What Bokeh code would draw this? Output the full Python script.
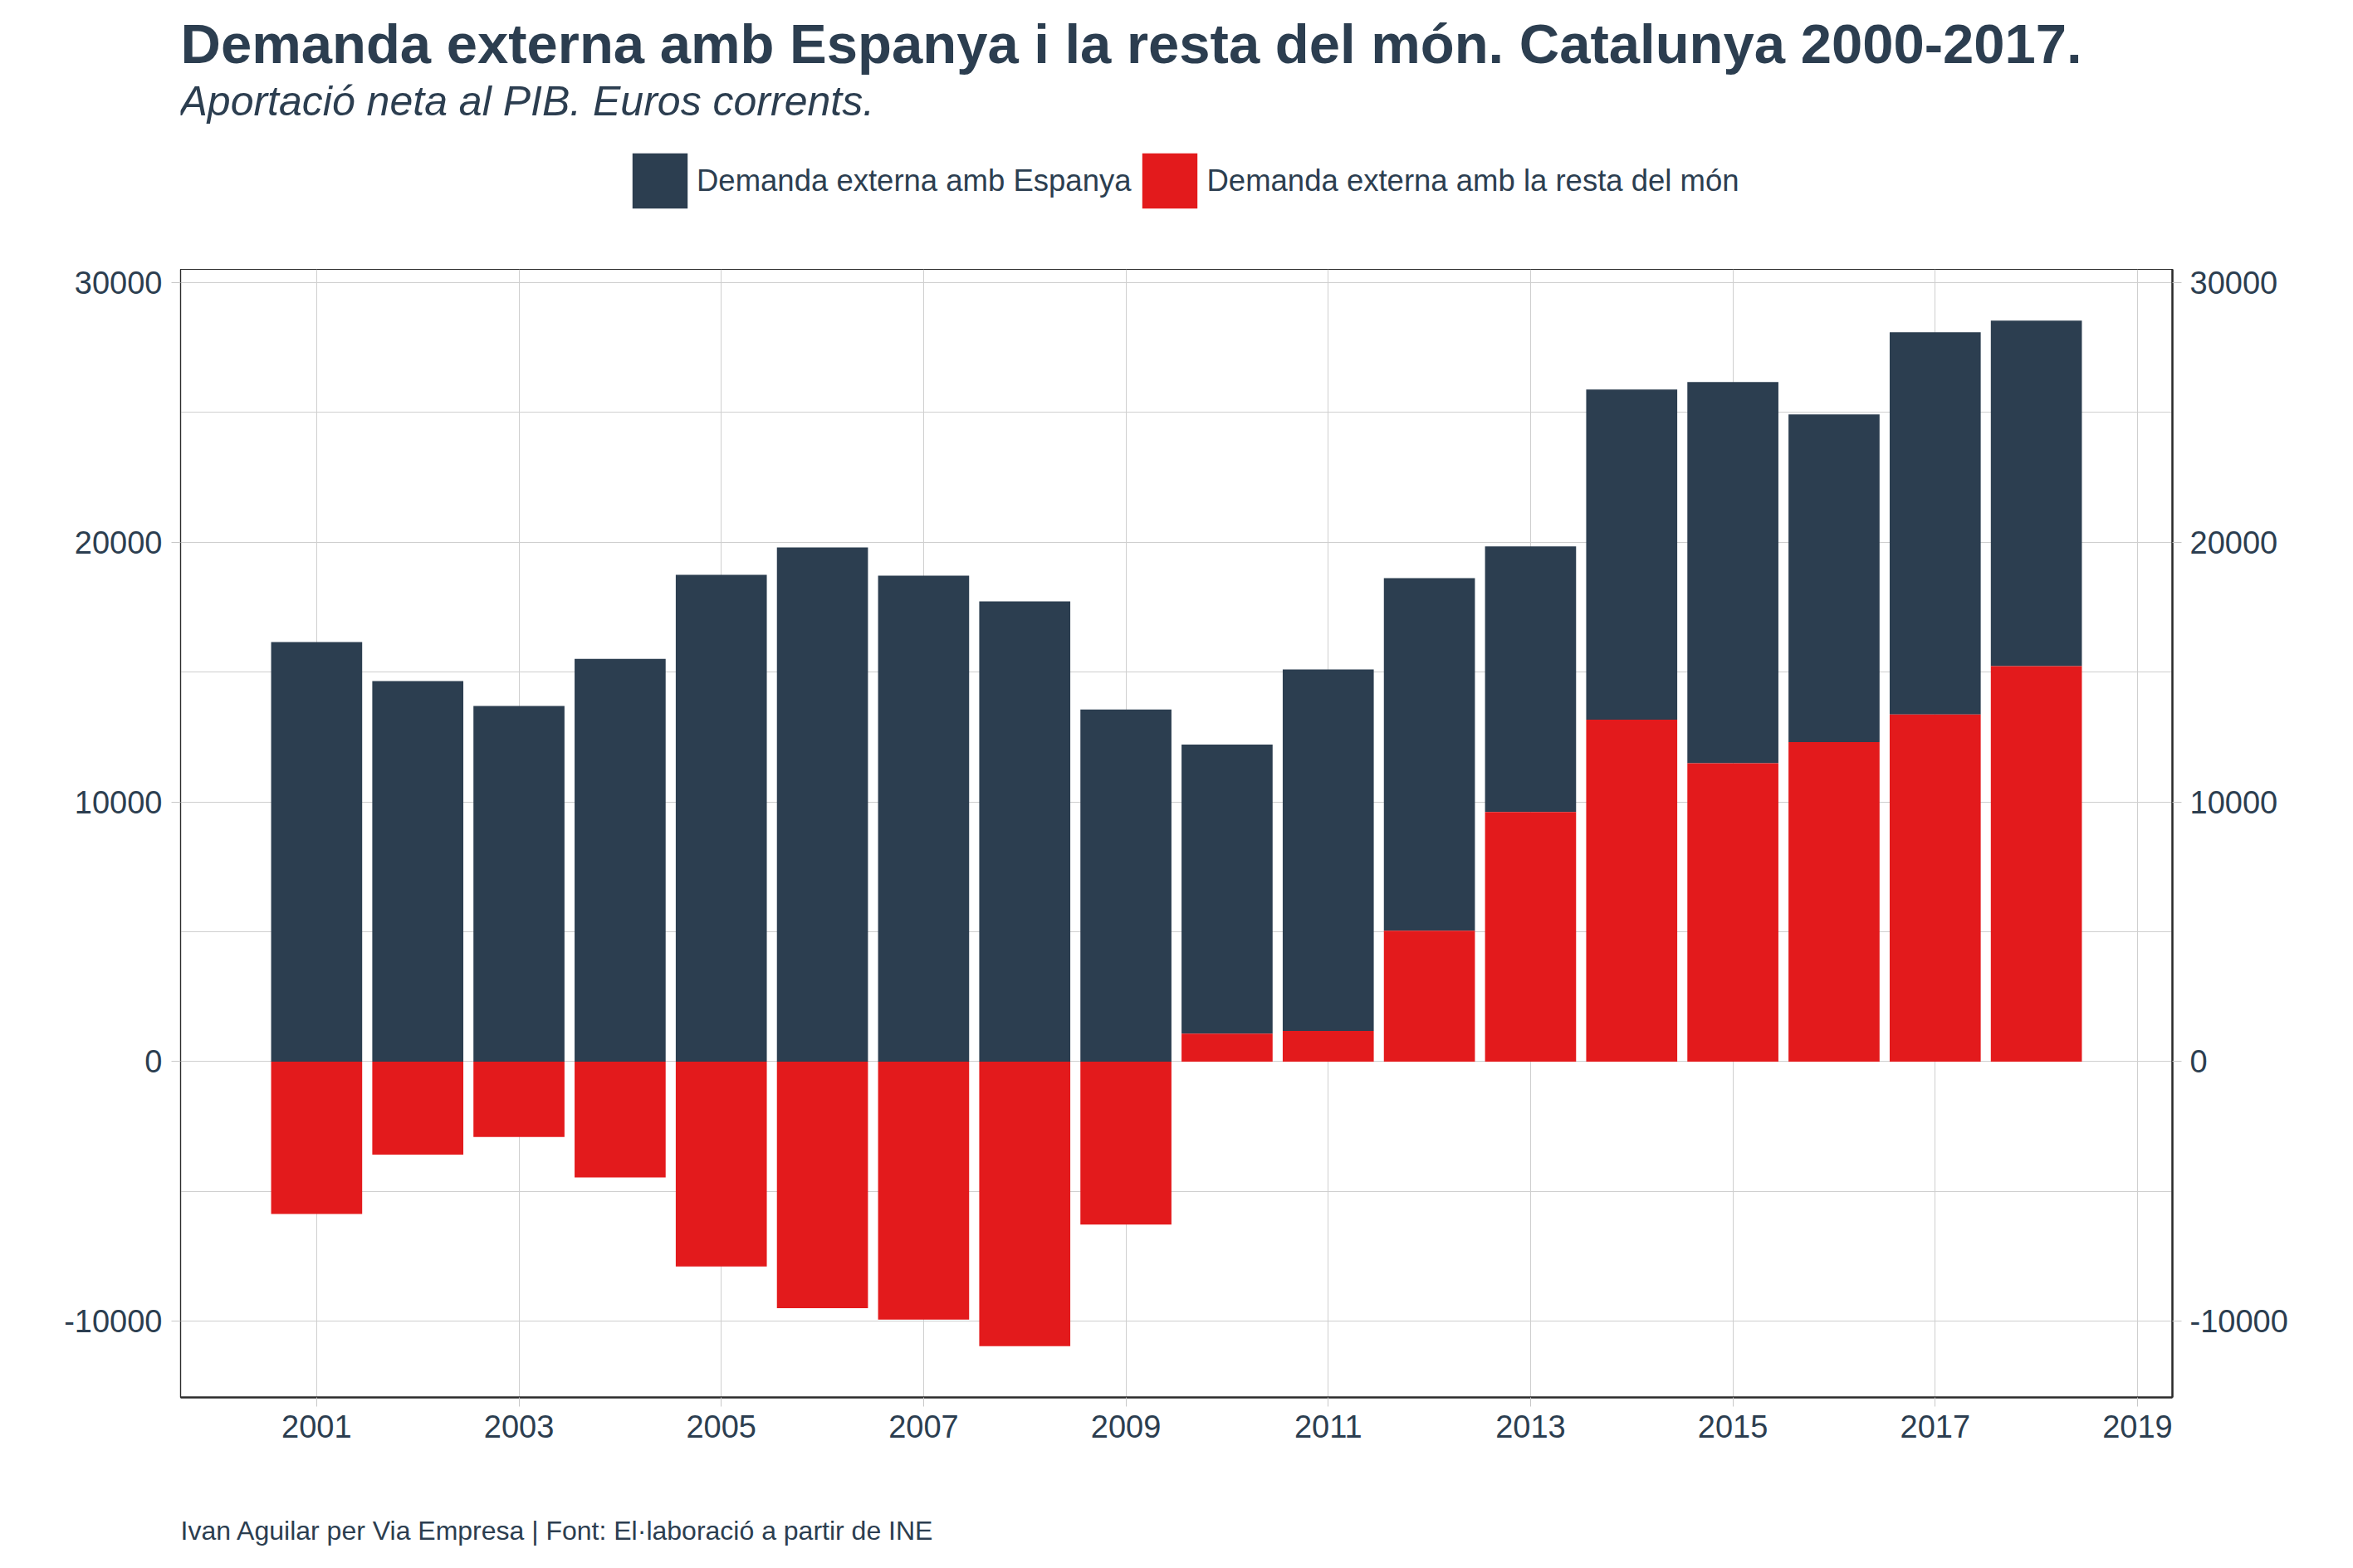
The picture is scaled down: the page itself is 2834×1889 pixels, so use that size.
from bokeh.plotting import figure
from bokeh.layouts import column
from bokeh.models import (ColumnDataSource, LinearAxis, FixedTicker, Range1d,
                          Legend, LegendItem, PrintfTickFormatter)
from bokeh.core.properties import value
from bokeh.embed import file_html
from bokeh.resources import INLINE

# ---- data ----
years = [2001, 2002, 2003, 2004, 2005, 2006, 2007, 2008, 2009,
         2010, 2011, 2012, 2013, 2014, 2015, 2016, 2017, 2018]
espanya = [16150, 14650, 13690, 15505, 18737, 19792, 18705, 17713, 13554,
           11120, 13915, 13570, 10221, 12709, 14667, 12607, 14712, 13301]
resta_mon = [-5866, -3575, -2897, -4460, -7887, -9488, -9930, -10950, -6270,
             1081, 1184, 5038, 9610, 13161, 11488, 12303, 13362, 15221]
series_names = ["Demanda externa amb Espanya", "Demanda externa amb la resta del món"]
x_ticks = [2001, 2003, 2005, 2007, 2009, 2011, 2013, 2015, 2017, 2019]
y_ticks = [-10000, 0, 10000, 20000, 30000]
y_grid = [-10000, -5000, 0, 5000, 10000, 15000, 20000, 25000, 30000]
title_text = "Demanda externa amb Espanya i la resta del món. Catalunya 2000-2017."
subtitle_text = "Aportació neta al PIB. Euros corrents."
caption_text = "Ivan Aguilar per Via Empresa | Font: El·laboració a partir de INE"

# ---- styling ----
DARK = "#2C3E50"
RED = "#E31A1C"
TEXT = "#2C3E50"
GRID = "#CFCFCF"
FONT = "Liberation Sans"
BAR_W = 0.9
W = 2834
BL, BR = 217, 218                      # left / right borders (frame 217..2616)
H_HEAD, H_MAIN, H_FOOT = 320, 1443, 126

# stacking like position_stack: positives stacked (red first, dark on top), negatives downward
red_bottom = [min(r, 0) for r in resta_mon]
red_top = [max(r, 0) for r in resta_mon]
dark_bottom = [max(r, 0) for r in resta_mon]
dark_top = [b + e for b, e in zip(dark_bottom, espanya)]

src = ColumnDataSource(dict(x=years, rb=red_bottom, rt=red_top, db=dark_bottom, dt=dark_top))

xmin, xmax = min(years) - BAR_W / 2, max(years) + BAR_W / 2
xpad = 0.05 * (xmax - xmin)
ymin, ymax = min(min(red_bottom), 0), max(dark_top)
ypad = 0.05 * (ymax - ymin)


def blank(height):
    # frame spans the same columns as the chart; ranges map 1:1 to canvas pixels
    f = figure(width=W, height=height, output_backend="svg", toolbar_location=None,
               x_range=Range1d(BL, W - BR), y_range=Range1d(height, 0),
               x_axis_location=None, y_axis_location=None,
               min_border_left=BL, min_border_right=BR,
               min_border_top=0, min_border_bottom=0)
    f.outline_line_color = None
    f.grid.visible = False
    f.background_fill_color = "white"
    f.border_fill_color = "white"
    return f


# ---- header: title, subtitle, legend ----
head = blank(H_HEAD)
head.text(x=[BL], y=[52], text=[title_text], text_font=value(FONT),
          text_font_size="67px", text_font_style="bold", text_color=TEXT,
          text_baseline="alphabetic")
head.text(x=[BL - 1], y=[121], text=[subtitle_text], text_font=value(FONT),
          text_font_size="50px", text_font_style="italic", text_color=TEXT,
          text_baseline="alphabetic")
# zero-size swatch carriers (outside the header frame) for the legend keys
lg_dark = head.vbar(x=[0], top=[0], bottom=[0], width=0, fill_color=DARK, line_color=None)
lg_red = head.vbar(x=[0], top=[0], bottom=[0], width=0, fill_color=RED, line_color=None)
legend = Legend(items=[LegendItem(label=series_names[0], renderers=[lg_dark]),
                       LegendItem(label=series_names[1], renderers=[lg_red])],
                orientation="horizontal", location=(536, 61),
                glyph_width=83, glyph_height=83,
                label_text_font=FONT, label_text_font_size="36.5px",
                label_text_color=TEXT, label_standoff=3, spacing=5,
                padding=0, margin=0, border_line_color=None,
                background_fill_alpha=0)
head.add_layout(legend)

# ---- main chart ----
p = figure(width=W, height=H_MAIN, output_backend="svg", toolbar_location=None,
           x_range=Range1d(xmin - xpad, xmax + xpad),
           y_range=Range1d(ymin - ypad, ymax + ypad),
           min_border_left=BL, min_border_right=BR,
           min_border_top=4, min_border_bottom=80)
p.background_fill_color = "white"
p.border_fill_color = "white"
p.outline_line_color = "#2B2B2B"
p.outline_line_width = 1.2

p.vbar(x="x", bottom="db", top="dt", width=BAR_W, source=src,
       fill_color=DARK, line_color=None)
p.vbar(x="x", bottom="rb", top="rt", width=BAR_W, source=src,
       fill_color=RED, line_color=None)

p.xgrid.ticker = FixedTicker(ticks=x_ticks)
p.ygrid.ticker = FixedTicker(ticks=y_grid)
for g in (p.xgrid, p.ygrid):
    g.grid_line_color = GRID
    g.grid_line_width = 1


def style_axis(ax, line_w):
    ax.major_label_text_font = FONT
    ax.major_label_text_font_size = "38px"
    ax.major_label_text_color = TEXT
    ax.major_tick_in = 0
    ax.major_tick_out = 11
    ax.minor_tick_in = 0
    ax.minor_tick_out = 0
    ax.major_tick_line_color = "#C8C8C8"
    ax.major_tick_line_width = 1
    ax.axis_line_color = "#2B2B2B"
    ax.axis_line_width = line_w


p.xaxis.ticker = FixedTicker(ticks=x_ticks)
p.yaxis.ticker = FixedTicker(ticks=y_ticks)
p.yaxis.formatter = PrintfTickFormatter(format="%d")
style_axis(p.xaxis[0], 2.5)
style_axis(p.yaxis[0], 1.2)
p.xaxis.major_label_standoff = 10
p.yaxis.major_label_standoff = 11

right_axis = LinearAxis(ticker=FixedTicker(ticks=y_ticks),
                        formatter=PrintfTickFormatter(format="%d"))
style_axis(right_axis, 2.5)
right_axis.major_label_standoff = 10
p.add_layout(right_axis, "right")

# ---- footer: caption ----
foot = blank(H_FOOT)
foot.text(x=[BL], y=[80], text=[caption_text], text_font=value(FONT),
          text_font_size="32px", text_color=TEXT, text_baseline="alphabetic")

layout = column(head, p, foot, spacing=0)
open("out.html", "w").write(file_html(layout, INLINE))
